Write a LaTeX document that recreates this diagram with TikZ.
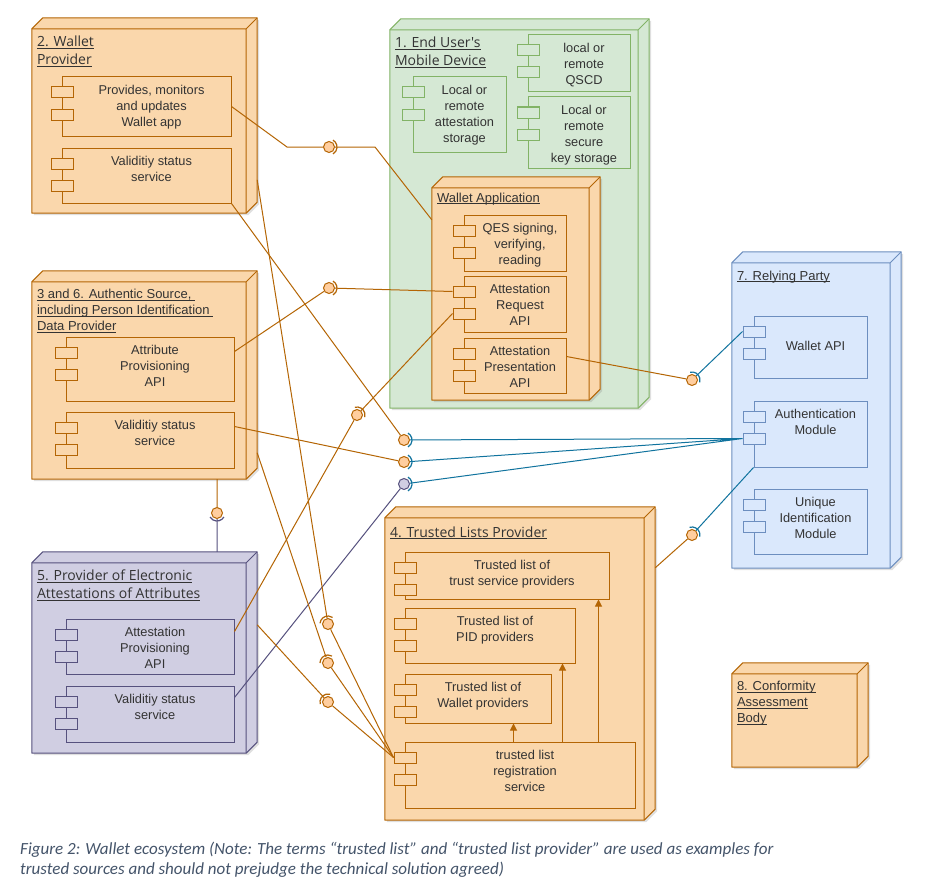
\documentclass[tikz,border=0pt]{standalone}
\usepackage{fontspec}
\setmainfont{Liberation Sans}
\newfontfamily\segoe{Open Sans}
\newfontfamily\calib{Carlito}
\usetikzlibrary{fit,calc,shadows,arrows.meta}
\newcommand*{\uln}[1]{\setbox0\hbox{#1}\rlap{\rule[-2.2pt]{\wd0}{0.8pt}}\box0}

\definecolor{ofill}{HTML}{FAD7AC}
\definecolor{oline}{HTML}{B46504}
\definecolor{gfill}{HTML}{D5E8D4}
\definecolor{gline}{HTML}{82B366}
\definecolor{bfill}{HTML}{DAE8FC}
\definecolor{bline}{HTML}{6C8EBF}
\definecolor{pfill}{HTML}{D0CEE2}
\definecolor{pline}{HTML}{56517E}
\definecolor{lfill}{HTML}{FFCE9F}
\definecolor{tealwire}{HTML}{10739E}
\definecolor{ink}{HTML}{333333}
\definecolor{capt}{HTML}{44546A}

\begin{document}
\begin{tikzpicture}[x=1pt,y=-1pt,
  cube/.style={draw=#1line,fill=#1fill,line width=1pt,line join=round},
  rim/.style={draw=#1line,line width=1pt},
  comp/.style={draw=#1line,fill=#1fill,line width=1pt,inner sep=0pt},
  port/.style={comp=#1,minimum width=22pt,minimum height=11pt,anchor=north west},
  comptext/.style={inner sep=0pt,align=center,text=ink,anchor=north,
    font=\fontsize{12.8}{15.7}\selectfont,execute at begin node={\rule{0pt}{10pt}}},
  stitle/.style={inner sep=0pt,align=left,text=ink,anchor=north west,
    font=\segoe\fontsize{14}{18}\selectfont,execute at begin node={\rule{0pt}{12pt}}},
  atitle/.style={inner sep=0pt,align=left,text=ink,anchor=north west,
    font=\fontsize{13}{16}\selectfont,execute at begin node={\rule{0pt}{10pt}}},
  lolly/.style={circle,draw=#1line,fill=lfill,line width=1pt,minimum size=11pt,inner sep=0pt},
  link/.style={draw=oline,line width=1pt},
  wire/.style={draw=tealwire,line width=1pt},
  flow/.style={draw=oline,line width=1pt,-{Triangle[length=7pt,width=7pt]}},
  caption/.style={inner sep=0pt,align=left,text=capt,anchor=north west,
    font=\calib\itshape\fontsize{17}{20}\selectfont,execute at begin node={\rule{0pt}{11pt}}}]
\newcommand*{\Cube}[6]{%
  \path node[fit={#2 #3},inner sep=0pt] (#1) {};
  \filldraw[cube=#4,drop shadow={shadow xshift=2pt,shadow yshift=-2pt,opacity=.25}]
    (#1.north west) -- ++(11pt,11pt) -- ([shift={(11pt,11pt)}]#1.north east)
    -- ([shift={(11pt,11pt)}]#1.south east) -- (#1.south east) -- (#1.south west) -- cycle;
  \draw[rim=#4] (#1.north west) -- (#1.north east) -- (#1.south east)
    (#1.north east) -- ++(11pt,11pt);
  \node[#5] (#1-t) at ([shift={(5pt,-7pt)}]#1.north west) {#6};
}
\newcommand*{\Comp}[6][9pt]{%
  \node[comp=#5,fit={#3 #4}] (#2) {};
  \node[port=#5] (#2-p1) at ([shift={(-11pt,-10pt)}]#2.north west) {};
  \node[port=#5] (#2-p2) at ([shift={(-11pt,-32pt)}]#2.north west) {};
  \node[comptext] (#2-t) at ([shift={(5pt,-#1)}]#2.north) {#6};
}
\newcommand*{\Socket}[3]{%
  \draw[draw=#3,line width=1.2pt] ([shift={(#2+60:8pt)}]#1.center)
    arc[start angle=#2+60,end angle=#2-60,radius=8pt];
}

\fill[white] (0,0) rectangle (927,883);
\useasboundingbox (0,0) rectangle (927,883);

\Cube{wp}{(32,29)}{(246,213)}{o}{stitle}{\uln{2. Wallet}\\\uln{Provider}}
\Comp{pma}{(62,77)}{(231,136)}{o}{Provides, monitors\\and updates\\Wallet app}
\Comp{wvs}{(62,148)}{(231,203)}{o}{Validitiy status\\service}

\Cube{ud}{(390,30)}{(638,408)}{g}{stitle}{\uln{1. End User's}\\\uln{Mobile Device}}
\Comp{ast}{(413,77)}{(506,152)}{g}{Local or\\remote\\attestation\\storage}
\Comp{qscd}{(528,35)}{(630,92)}{g}{local or\\remote\\QSCD}
\Comp{ksk}{(528,97)}{(630,168)}{g}{Local or\\remote\\secure\\key storage}

\Cube{wa}{(432,188)}{(589,400)}{o}{atitle,yshift=3pt}{\uln{Wallet Application}}
\Comp{qes}{(464,215)}{(566,271)}{o}{QES signing,\\verifying,\\reading}
\Comp{areq}{(464,276)}{(566,332)}{o}{Attestation\\Request\\API}
\Comp{apres}{(464,338)}{(566,393)}{o}{Attestation\\Presentation\\API}

\Cube{as}{(32,282)}{(246,479)}{o}{atitle}{\uln{3 and 6. Authentic Source,\ }\\\uln{including Person Identification\ }\\\uln{Data Provider}}
\Comp{apa}{(66,337)}{(234,401)}{o}{Attribute\\Provisioning\\API}
\Comp{avs}{(66,412)}{(234,468)}{o}{Validitiy status\\service}

\Cube{ea}{(32,563)}{(246,753)}{p}{stitle}{\uln{5. Provider of Electronic}\\\uln{Attestations of Attributes}}
\Comp{epa}{(66,619)}{(234,674)}{p}{Attestation\\Provisioning\\API}
\Comp{evs}{(66,686)}{(234,742)}{p}{Validitiy status\\service}

\Cube{tl}{(385,518)}{(644,820)}{o}{stitle}{\uln{4. Trusted Lists Provider}}
\Comp{tsp}{(405,552)}{(609,599)}{o}{Trusted list of\\trust service providers}
\Comp{pid}{(405,608)}{(575,663)}{o}{Trusted list of\\PID providers}
\Comp{wpl}{(405,674)}{(551,723)}{o}{Trusted list of\\Wallet providers}
\Comp{reg}{(405,742)}{(635,808)}{o}{trusted list\\registration\\service}
\draw[flow] ([xshift=109pt]reg.north west) -- ([xshift=109pt]reg.north west |- wpl.south);
\draw[flow] ([xshift=158pt]reg.north west) -- ([xshift=158pt]reg.north west |- pid.south);
\draw[flow] ([xshift=194pt]reg.north west) -- ([xshift=194pt]reg.north west |- tsp.south);

\Cube{rp}{(732,263)}{(890,568)}{b}{atitle}{\uln{7. Relying Party}}
\Comp[25pt]{wapi}{(754,316)}{(867,378)}{b}{Wallet API}
\Comp{auth}{(754,401)}{(867,467)}{b}{Authentication\\Module}
\Comp{uid}{(754,489)}{(867,554)}{b}{Unique\\Identification\\Module}

\Cube{ca}{(732,674)}{(857,767)}{o}{atitle}{\uln{8. Conformity}\\\uln{Assessment}\\\uln{Body}}

\node[lolly=o] (l1) at (329,147) {};
\node[lolly=o] (l2) at (329,288) {};
\node[lolly=o] (l3) at (357,415) {};
\node[lolly=o] (b1) at (404,440) {};
\node[lolly=o] (b2) at (404,462) {};
\node[lolly=p,fill=pfill] (b3) at (404,484) {};
\node[lolly=o] (r1) at (692,380) {};
\node[lolly=o] (r2) at (692,535) {};
\node[lolly=o] (t1) at (328,624) {};
\node[lolly=o] (t2) at (328,663) {};
\node[lolly=o] (t3) at (328,702) {};
\node[lolly=o] (v1) at (217,513) {};

\draw[link] (pma.east) -- ([xshift=-42pt]l1.center) -- (l1);
\draw[link] (l1) -- ([xshift=46pt]l1.center) -- ([yshift=-32pt]wa.north west);
\draw[link] ([yshift=-15pt]apa.north east) -- (l2) -- (areq-p1.west);
\draw[link] ([yshift=-13pt]epa.north east) -- (l3) -- (areq-p2.west);
\draw[link] (wvs.south east) -- (b1);
\draw[link] ([yshift=-15pt]avs.north east) -- (b2);
\draw[link,draw=pline] ([yshift=-12pt]evs.north east) -- (b3);
\draw[wire] (b1) -- (auth-p2.west) (b2) -- (auth-p2.west) (b3) -- (auth-p2.west);
\draw[link] ([yshift=-19pt]apres.north east) -- (r1);
\draw[wire] (r1) -- (wapi-p1.west);
\draw[link] ([shift={(11pt,-50pt)}]tl.north east) -- (r2);
\draw[wire] (r2) -- (auth.south west);
\draw[link] ([shift={(11pt,-151pt)}]wp.north east) -- (t1) -- (reg-p1.west);
\draw[link] ([shift={(11pt,-171pt)}]as.north east) -- (t2) -- (reg-p1.west);
\draw[link] ([shift={(11pt,-62pt)}]ea.north east) -- (t3) -- (reg-p1.west);
\draw[link] ([xshift=-29pt]as.south east) -- (v1);
\draw[link,draw=pline] (v1) -- ([shift={(-29pt,11pt)}]ea.north east);

\Socket{l1}{0}{oline}
\Socket{l2}{0}{oline}
\Socket{l3}{45}{oline}
\Socket{b1}{0}{tealwire}
\Socket{b2}{0}{tealwire}
\Socket{b3}{0}{tealwire}
\Socket{r1}{43}{tealwire}
\Socket{r2}{48}{tealwire}
\Socket{t1}{115}{oline}
\Socket{t2}{120}{oline}
\Socket{t3}{135}{oline}
\Socket{v1}{-90}{pline}

\node[caption] (cap) at (20,842) {Figure 2: Wallet ecosystem (Note: The terms “trusted list” and “trusted list provider” are used as examples for\\trusted sources and should not prejudge the technical solution agreed)};
\end{tikzpicture}
\end{document}
